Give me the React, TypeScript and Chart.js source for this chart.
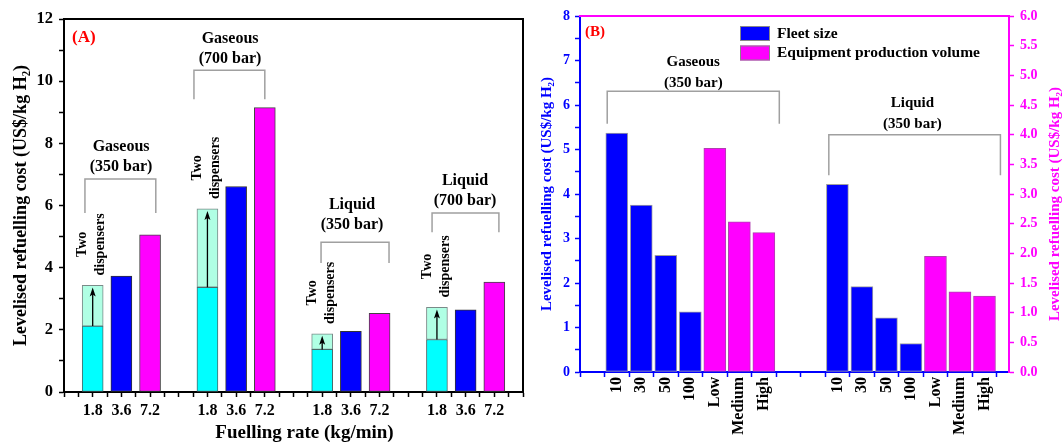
import React, { useEffect, useRef } from 'react';
import { Chart, registerables } from 'chart.js';

Chart.register(...registerables);

const FONT = '"Liberation Serif", "Times New Roman", serif';

// ---------- Panel A data ----------
const A_RATES = ['1.8', '3.6', '7.2'];
const A_GROUP_NAMES = ['Gaseous', 'Gaseous', 'Liquid', 'Liquid'];
const A_GROUP_PRESSURES = ['(350 bar)', '(700 bar)', '(350 bar)', '(700 bar)'];
const A_ONE_DISPENSER_18 = [2.12, 3.37, 1.37, 1.69];
const A_TWO_DISPENSERS_18 = [3.43, 5.89, 1.87, 2.72];
const A_RATE_36 = [3.73, 6.61, 1.95, 2.64];
const A_RATE_72 = [5.06, 9.15, 2.53, 3.54];
const A_Y_TICK_MAX = 12;
const A_X_TITLE = 'Fuelling rate (kg/min)';

// bracket annotations for panel A (data units)
const A_BRACKETS = [
  { from: -0.27, to: 2.2, top: 6.85, bottom: 5.76, labelX: 0.99, labelY: 7.23 },
  { from: 3.53, to: 6.0, top: 10.35, bottom: 9.42, labelX: 4.79, labelY: 10.71 },
  { from: 7.96, to: 10.33, top: 4.82, bottom: 4.15, labelX: 9.04, labelY: 5.37 },
  { from: 11.83, to: 14.16, top: 5.76, bottom: 5.14, labelX: 12.98, labelY: 6.14 },
];

// ---------- Panel B data ----------
const B_FLEET_LABELS = ['10', '30', '50', '100'];
const B_VOLUME_LABELS = ['Low', 'Medium', 'High'];
const B_GROUP_NAMES = ['Gaseous', 'Liquid'];
const B_GROUP_PRESSURES = ['(350 bar)', '(350 bar)'];
const B_GASEOUS_FLEET = [5.37, 3.75, 2.62, 1.35];
const B_LIQUID_FLEET = [4.22, 1.92, 1.22, 0.64];
const B_GASEOUS_VOLUME = [3.77, 2.53, 2.35];
const B_LIQUID_VOLUME = [1.95, 1.35, 1.28];
const B_GROUP_STARTS = [0, 9];

const B_BRACKETS = [
  { from: -0.39, to: 6.63, top: 6.31, bottom: 5.58, labelX: 3.12, labelY: 6.5 },
  { from: 8.65, to: 15.65, top: 5.33, bottom: 4.42, labelX: 12.06, labelY: 5.58 },
];

const CYAN = '#00FFFF';
const LIGHT = '#B0FFE4';
const BLUE = '#0000FF';
const MAGENTA = '#FF00FF';

function slotA(g: number, k: number) {
  return g * 4 + k;
}

function labelA(v: number) {
  if (!Number.isInteger(v) || v < 0) return '';
  const g = Math.floor(v / 4);
  const k = v % 4;
  if (g >= A_RATE_36.length || k > 2) return '';
  return A_RATES[k];
}

const B_X_LABELS = [...B_FLEET_LABELS, ...B_VOLUME_LABELS];
function labelB(v: number) {
  if (!Number.isInteger(v)) return '';
  for (const s of B_GROUP_STARTS) {
    const k = v - s;
    if (k >= 0 && k < B_X_LABELS.length) return B_X_LABELS[k];
  }
  return '';
}

function drawBracket(ctx: CanvasRenderingContext2D, x: any, y: any, b: any, name: string, pressure: string, fontPx: number) {
  const x1 = x.getPixelForValue(b.from);
  const x2 = x.getPixelForValue(b.to);
  const yt = y.getPixelForValue(b.top);
  const yb = y.getPixelForValue(b.bottom);
  ctx.strokeStyle = '#A0A0A0';
  ctx.lineWidth = 1.5;
  ctx.beginPath();
  ctx.moveTo(x1, yb);
  ctx.lineTo(x1, yt);
  ctx.lineTo(x2, yt);
  ctx.lineTo(x2, yb);
  ctx.stroke();
  const lx = x.getPixelForValue(b.labelX);
  const ly = y.getPixelForValue(b.labelY);
  ctx.fillStyle = '#000';
  ctx.font = `bold ${fontPx}px ${FONT}`;
  ctx.textAlign = 'center';
  ctx.textBaseline = 'middle';
  ctx.fillText(pressure, lx, ly);
  ctx.fillText(name, lx, ly - 20.5);
}

const panelAPlugin = {
  id: 'panelA',
  afterDraw(chart: any) {
    const { ctx, chartArea: ca, scales } = chart;
    const x = scales.x;
    const y = scales.y;
    ctx.save();
    // frame top & right
    ctx.strokeStyle = '#000';
    ctx.lineWidth = 2;
    ctx.beginPath();
    ctx.moveTo(ca.left - 1, ca.top);
    ctx.lineTo(ca.right, ca.top);
    ctx.lineTo(ca.right, ca.bottom + 1);
    ctx.stroke();

    // brackets
    A_BRACKETS.forEach((b, g) => drawBracket(ctx, x, y, b, A_GROUP_NAMES[g], A_GROUP_PRESSURES[g], 16));

    // arrows + "Two dispensers"
    A_ONE_DISPENSER_18.forEach((one, g) => {
      const cx = x.getPixelForValue(slotA(g, 0));
      const yb = y.getPixelForValue(one);
      const yt = y.getPixelForValue(A_TWO_DISPENSERS_18[g]) + 2;
      ctx.strokeStyle = '#000';
      ctx.lineWidth = 1.3;
      ctx.beginPath();
      ctx.moveTo(cx, yb);
      ctx.lineTo(cx, yt + 5);
      ctx.stroke();
      ctx.fillStyle = '#000';
      ctx.beginPath();
      ctx.moveTo(cx, yt);
      ctx.lineTo(cx - 3, yt + 9);
      ctx.lineTo(cx, yt + 7);
      ctx.lineTo(cx + 3, yt + 9);
      ctx.closePath();
      ctx.fill();

      const ty = y.getPixelForValue(A_TWO_DISPENSERS_18[g]) - 41;
      ctx.save();
      ctx.translate(cx - 1, ty);
      ctx.rotate(-Math.PI / 2);
      ctx.font = `bold 14px ${FONT}`;
      ctx.textAlign = 'center';
      ctx.textBaseline = 'middle';
      ctx.fillText('Two', 0, -9);
      ctx.fillText('dispensers', 0, 9);
      ctx.restore();
    });

    // x axis title
    ctx.fillStyle = '#000';
    ctx.font = `bold 19px ${FONT}`;
    ctx.textAlign = 'center';
    ctx.textBaseline = 'middle';
    ctx.fillText(A_X_TITLE, (ca.left + ca.right) / 2 + 11, chart.height - 10);

    // panel tag
    ctx.fillStyle = '#FF0000';
    ctx.font = `bold 17px ${FONT}`;
    ctx.textAlign = 'left';
    ctx.textBaseline = 'middle';
    ctx.fillText('(A)', ca.left + 8, ca.top + 19);
    ctx.restore();
  },
};

const panelBPlugin = {
  id: 'panelB',
  afterDraw(chart: any) {
    const { ctx, chartArea: ca, scales } = chart;
    const x = scales.x;
    const y = scales.y;
    ctx.save();
    // top frame in magenta
    ctx.strokeStyle = MAGENTA;
    ctx.lineWidth = 2;
    ctx.beginPath();
    ctx.moveTo(ca.left - 1, ca.top);
    ctx.lineTo(ca.right + 1, ca.top);
    ctx.stroke();

    B_BRACKETS.forEach((b, g) => drawBracket(ctx, x, y, b, B_GROUP_NAMES[g], B_GROUP_PRESSURES[g], 15));

    // legend
    const lx = ca.left + 160;
    const ly = ca.top + 10;
    chart.data.datasets.forEach((ds: any, i: number) => {
      const top = ly + i * 19.5;
      ctx.fillStyle = ds.backgroundColor;
      ctx.fillRect(lx, top, 30, 15);
      ctx.strokeStyle = '#888';
      ctx.lineWidth = 1;
      ctx.strokeRect(lx + 0.5, top + 0.5, 29, 14);
      ctx.fillStyle = '#000';
      ctx.font = `bold 15.5px ${FONT}`;
      ctx.textAlign = 'left';
      ctx.textBaseline = 'middle';
      ctx.fillText(ds.label, lx + 37, top + 7.5);
    });

    // panel tag
    ctx.fillStyle = '#FF0000';
    ctx.font = `bold 15px ${FONT}`;
    ctx.textAlign = 'left';
    ctx.textBaseline = 'middle';
    ctx.fillText('(B)', ca.left + 5, ca.top + 16);

    // right axis title (reads bottom to top)
    ctx.save();
    ctx.translate(chart.width - 7, (ca.top + ca.bottom) / 2 + 10);
    ctx.rotate(-Math.PI / 2);
    ctx.fillStyle = MAGENTA;
    ctx.font = `bold 15px ${FONT}`;
    ctx.textAlign = 'center';
    ctx.textBaseline = 'middle';
    ctx.fillText('Levelised refuelling cost (US$/kg H\u2082)', 0, 0);
    ctx.restore();
    ctx.restore();
  },
};

function configA(): any {
  return {
    type: 'bar',
    data: {
      datasets: [
        {
          label: 'One dispenser (1.8)',
          data: A_ONE_DISPENSER_18.map((v, g) => ({ x: slotA(g, 0), y: v })),
          backgroundColor: CYAN,
          borderColor: '#4A6A6A',
        },
        {
          label: 'Two dispensers (1.8)',
          data: A_TWO_DISPENSERS_18.map((v, g) => ({ x: slotA(g, 0), y: v - A_ONE_DISPENSER_18[g] })),
          backgroundColor: LIGHT,
          borderColor: '#7A8A88',
        },
        {
          label: '3.6',
          data: A_RATE_36.map((v, g) => ({ x: slotA(g, 1), y: v })),
          backgroundColor: BLUE,
          borderColor: '#333',
        },
        {
          label: '7.2',
          data: A_RATE_72.map((v, g) => ({ x: slotA(g, 2), y: v })),
          backgroundColor: MAGENTA,
          borderColor: '#444',
        },
      ].map((d) => ({ ...d, borderWidth: 1, borderSkipped: false, barThickness: 21 })),
    },
    options: {
      responsive: false,
      animation: false,
      layout: { padding: { top: 19, right: 17, left: 0, bottom: 0 } },
      plugins: { legend: { display: false }, tooltip: { enabled: false } },
      scales: {
        x: {
          type: 'linear',
          stacked: true,
          offset: false,
          min: -1,
          max: 15,
          afterFit: (s: any) => { s.height = 51; },
          grid: { offset: false, drawOnChartArea: false, drawTicks: true, tickLength: 5, tickColor: '#000', tickWidth: 1.5 },
          border: { display: true, color: '#000', width: 2 },
          ticks: {
            stepSize: 0.5,
            autoSkip: false,
            maxRotation: 0,
            minRotation: 0,
            padding: 4,
            color: '#000',
            font: { family: FONT, size: 16, weight: 'bold' },
            callback: (v: any) => labelA(Number(v)),
          },
          title: { display: false },
        },
        y: {
          stacked: true,
          min: 0,
          max: A_Y_TICK_MAX,
          afterFit: (s: any) => { s.width = 64; },
          grid: { drawOnChartArea: false, drawTicks: true, tickLength: 5, tickColor: '#000', tickWidth: 1.5 },
          border: { display: true, color: '#000', width: 2 },
          ticks: {
            stepSize: 1,
            padding: 6,
            color: '#000',
            font: { family: FONT, size: 16.5, weight: 'bold' },
            callback: (v: any) => (Number(v) % 2 === 0 ? String(v) : ''),
          },
          title: {
            display: true,
            text: 'Levelised refuelling cost (US$/kg H\u2082)',
            color: '#000',
            font: { family: FONT, size: 18, weight: 'bold', lineHeight: 1.2 },
            padding: { top: 11, bottom: 0 },
          },
        },
      },
    },
    plugins: [panelAPlugin],
  };
}

function configB(): any {
  const fleet: any[] = [];
  const volume: any[] = [];
  [B_GASEOUS_FLEET, B_LIQUID_FLEET].forEach((arr, g) =>
    arr.forEach((v, k) => fleet.push({ x: B_GROUP_STARTS[g] + k, y: v }))
  );
  [B_GASEOUS_VOLUME, B_LIQUID_VOLUME].forEach((arr, g) =>
    arr.forEach((v, k) => volume.push({ x: B_GROUP_STARTS[g] + B_FLEET_LABELS.length + k, y: v }))
  );
  return {
    type: 'bar',
    data: {
      datasets: [
        {
          label: 'Fleet size',
          data: fleet,
          yAxisID: 'y',
          backgroundColor: BLUE,
          borderColor: '#A0A0A0',
          borderWidth: 1,
          borderSkipped: false,
          barThickness: 22,
        },
        {
          label: 'Equipment production volume',
          data: volume,
          yAxisID: 'y1',
          backgroundColor: MAGENTA,
          borderColor: '#B040B0',
          borderWidth: 1,
          borderSkipped: false,
          barThickness: 22,
        },
      ],
    },
    options: {
      responsive: false,
      animation: false,
      layout: { padding: { top: 16, right: 0, left: 0, bottom: 0 } },
      plugins: { legend: { display: false }, tooltip: { enabled: false } },
      scales: {
        x: {
          type: 'linear',
          stacked: true,
          offset: false,
          min: -1.5,
          max: 16,
          afterFit: (s: any) => { s.height = 71; },
          grid: {
            offset: false,
            drawOnChartArea: false,
            drawTicks: true,
            tickLength: 5,
            tickWidth: 1.5,
            tickColor: (c: any) => (c.tick && !Number.isInteger(c.tick.value) ? BLUE : 'rgba(0,0,0,0)'),
          },
          border: { display: true, color: BLUE, width: 2 },
          ticks: {
            stepSize: 0.5,
            autoSkip: false,
            maxRotation: 90,
            minRotation: 90,
            padding: 0,
            color: '#000',
            font: { family: FONT, size: 16, weight: 'bold' },
            callback: (v: any) => labelB(Number(v)),
          },
        },
        y: {
          position: 'left',
          min: 0,
          max: 8,
          afterFit: (s: any) => { s.width = 40; },
          grid: { drawOnChartArea: false, drawTicks: true, tickLength: 5, tickColor: BLUE, tickWidth: 1.5 },
          border: { display: true, color: BLUE, width: 2 },
          ticks: {
            stepSize: 0.5,
            padding: 5,
            color: BLUE,
            font: { family: FONT, size: 14, weight: 'bold' },
            callback: (v: any) => (Number.isInteger(Number(v)) ? String(v) : ''),
          },
          title: {
            display: true,
            text: 'Levelised refuelling cost (US$/kg H\u2082)',
            color: BLUE,
            font: { family: FONT, size: 15, weight: 'bold', lineHeight: 1 },
            padding: { top: 0, bottom: 0 },
          },
        },
        y1: {
          position: 'right',
          min: 0,
          max: 6,
          afterFit: (s: any) => { s.width = 53; },
          grid: { drawOnChartArea: false, drawTicks: true, tickLength: 5, tickColor: MAGENTA, tickWidth: 1.5 },
          border: { display: true, color: MAGENTA, width: 2 },
          ticks: {
            stepSize: 0.25,
            padding: 6,
            color: MAGENTA,
            font: { family: FONT, size: 14, weight: 'bold' },
            callback: (v: any) => (Math.round(Number(v) * 4) % 2 === 0 ? Number(v).toFixed(1) : ''),
          },
        },
      },
    },
    plugins: [panelBPlugin],
  };
}

export default function App() {
  const refA = useRef<HTMLCanvasElement>(null);
  const refB = useRef<HTMLCanvasElement>(null);
  useEffect(() => {
    const a = new Chart(refA.current as HTMLCanvasElement, configA());
    const b = new Chart(refB.current as HTMLCanvasElement, configB());
    return () => {
      a.destroy();
      b.destroy();
    };
  }, []);
  return (
    <div style={{ position: 'absolute', left: 0, top: 0, width: 1062, height: 443, background: '#fff' }}>
      <canvas ref={refA} width={540} height={443} style={{ position: 'absolute', left: 0, top: 0 }} />
      <canvas ref={refB} width={522} height={443} style={{ position: 'absolute', left: 540, top: 0 }} />
    </div>
  );
}
